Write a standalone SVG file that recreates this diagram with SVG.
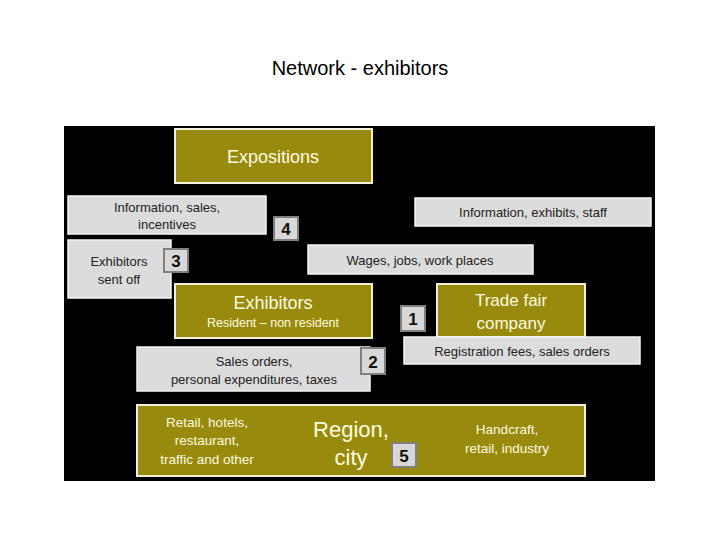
<svg xmlns="http://www.w3.org/2000/svg" width="720" height="540" viewBox="0 0 720 540">
<style>
.o{fill:#988a0c;stroke:#f2f0dc;stroke-width:2}
.g{fill:#dcdcdc;stroke:#f4f4f4;stroke-width:1.5}
.b{fill:#d8d8d8;stroke:#808080;stroke-width:2}
text{font-family:"Liberation Sans",Arial,sans-serif;text-anchor:middle}
.ow{fill:#fffbe0}
.gt{fill:#222;font-size:13px}
.n{fill:#111;font-size:17px;font-weight:bold}
</style>
<rect width="720" height="540" fill="#fff"/>
<text x="360" y="75" font-family="Carlito,'Liberation Sans',sans-serif" font-size="20" fill="#000">Network - exhibitors</text>
<rect x="64" y="126" width="591" height="355" fill="#000"/>
<g id="connectors"></g>
<g id="expositions"><rect class="o" x="175" y="129" width="197" height="54"/><text class="ow" x="273" y="163" font-size="18">Expositions</text></g>
<g id="info-sales"><rect class="g" x="68" y="196" width="198" height="38"/><text class="gt" x="167" y="212">Information, sales,</text><text class="gt" x="167" y="229">incentives</text></g>
<g id="n4"><rect class="b" x="274" y="217" width="24" height="23"/><text class="n" x="286" y="235">4</text></g>
<g id="info-exhibits"><rect class="g" x="415" y="198" width="236" height="28"/><text class="gt" x="533" y="217">Information, exhibits, staff</text></g>
<g id="sent-off"><rect class="g" x="68" y="240" width="103" height="58"/><text class="gt" x="119" y="266">Exhibitors</text><text class="gt" x="119" y="284">sent off</text></g>
<g id="n3"><rect class="b" x="164" y="249" width="24" height="23"/><text class="n" x="176" y="267">3</text></g>
<g id="wages"><rect class="g" x="308" y="245" width="225" height="29"/><text class="gt" x="420" y="265">Wages, jobs, work places</text></g>
<g id="exhibitors"><rect class="o" x="175" y="284" width="197" height="54"/><text class="ow" x="273" y="309" font-size="18">Exhibitors</text><text class="ow" x="273" y="327" font-size="12.5">Resident – non resident</text></g>
<g id="n1"><rect class="b" x="401" y="306" width="24" height="25"/><text class="n" x="413" y="325">1</text></g>
<g id="tradefair"><rect class="o" x="437" y="284" width="148" height="53"/><text class="ow" x="511" y="306" font-size="17">Trade fair</text><text class="ow" x="511" y="329" font-size="17">company</text></g>
<g id="registration"><rect class="g" x="404" y="337" width="236" height="27"/><text class="gt" x="522" y="356">Registration fees, sales orders</text></g>
<g id="sales-orders"><rect class="g" x="137" y="347" width="233" height="44"/><text class="gt" x="254" y="366">Sales orders,</text><text class="gt" x="254" y="384">personal expenditures, taxes</text></g>
<g id="n2"><rect class="b" x="361" y="348" width="24" height="26"/><text class="n" x="373" y="368">2</text></g>
<g id="region"><rect class="o" x="137" y="405" width="448" height="71"/>
<text class="ow" x="207" y="427" font-size="13.5">Retail, hotels,</text><text class="ow" x="207" y="445" font-size="13.5">restaurant,</text><text class="ow" x="207" y="464" font-size="13.5">traffic and other</text>
<text class="ow" x="351" y="437" font-size="22">Region,</text><text class="ow" x="351" y="465" font-size="22">city</text>
<text class="ow" x="507" y="434" font-size="13.5">Handcraft,</text><text class="ow" x="507" y="453" font-size="13.5">retail, industry</text></g>
<g id="n5"><rect class="b" x="392" y="443" width="24" height="24"/><text class="n" x="404" y="462">5</text></g>
</svg>
